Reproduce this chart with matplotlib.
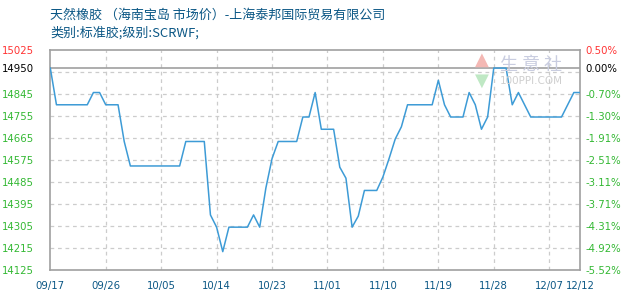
import matplotlib
matplotlib.use("Agg")
import matplotlib.pyplot as plt
import numpy as np

plt.rcParams['font.family'] = ['DejaVu Sans', 'Noto Sans CJK SC']

# daily price, 09/17 .. 12/12 (day index 0..86)
price = [14950, 14800, 14800, 14800, 14800, 14800, 14800, 14850, 14850, 14800,
         14800, 14800, 14650, 14550, 14550, 14550, 14550, 14550, 14550, 14550,
         14550, 14550, 14650, 14650, 14650, 14650, 14350, 14300, 14200, 14300,
         14300, 14300, 14300, 14350, 14300, 14460, 14580, 14650, 14650, 14650,
         14650, 14750, 14750, 14850, 14700, 14700, 14700, 14545, 14500, 14300,
         14345, 14450, 14450, 14450, 14505, 14580, 14660, 14710, 14800, 14800,
         14800, 14800, 14800, 14900, 14800, 14750, 14750, 14750, 14850, 14800,
         14700, 14750, 14950, 14950, 14950, 14800, 14850, 14800, 14750, 14750,
         14750, 14750, 14750, 14750, 14800, 14850, 14850]
days = np.arange(len(price))

xtick_days = [0, 9, 18, 27, 36, 45, 54, 63, 72, 81, 86]
xtick_labels = ["09/17", "09/26", "10/05", "10/14", "10/23", "11/01",
                "11/10", "11/19", "11/28", "12/07", "12/12"]

base = 14950
y_min, y_max = 14125, 15025
grid_levels = [14125 + 90 * k for k in range(11)]

title1 = "天然橡胶 （海南宝岛 市场价）-上海泰邦国际贸易有限公司"
title2 = "类别:标准胶;级别:SCRWF;"

blue_txt = "#0b5785"
green = "#33b833"
red = "#ff3333"
spine_c = "#a0a0a0"

fig = plt.figure(figsize=(6.3, 3.0), dpi=100)
ax = fig.add_axes([50.3 / 630, 0.1, (580 - 50.3) / 630, (270 - 49.7) / 300])

for lv in grid_levels[1:-1]:
    ax.axhline(lv, color="#cccccc", lw=0.9, ls=(0, (3, 3)), zorder=1)
for d in xtick_days[1:-1]:
    ax.axvline(d, color="#cccccc", lw=0.9, ls=(0, (3, 3)), zorder=1)
ax.axhline(base, color=spine_c, lw=1.2, zorder=2)

ax.plot(days, price, color="#3d9bd6", lw=1.1, zorder=3)

ax.set_xlim(0, len(price) - 1)
ax.set_ylim(y_min, y_max)
for s in ax.spines.values():
    s.set_color(spine_c)
    s.set_linewidth(1.2)

ax.set_xticks(xtick_days)
ax.set_xticklabels(xtick_labels)
ax.tick_params(axis="x", length=0, pad=8, labelsize=7.3, labelcolor=blue_txt)

left_ticks = grid_levels[:-2] + [base, y_max]
left_labels = [str(v) for v in left_ticks]
ax.set_yticks(left_ticks)
ax.set_yticklabels(left_labels)
ax.tick_params(axis="y", length=0, pad=11.5, labelsize=7.3)
for lab, v in zip(ax.get_yticklabels(), left_ticks):
    lab.set_color(red if v > base else ("black" if v == base else green))

ax2 = ax.twinx()
ax2.set_ylim(y_min, y_max)
ax2.set_yticks(left_ticks)
ax2.set_yticklabels(["%.2f%%" % ((v - base) / base * 100) for v in left_ticks])
ax2.tick_params(axis="y", length=0, pad=3.6, labelsize=7.3)
for lab, v in zip(ax2.get_yticklabels(), left_ticks):
    lab.set_color(red if v > base else ("black" if v == base else green))
for s in ax2.spines.values():
    s.set_visible(False)

# titles
fig.text(50 / 630, 1 - 15 / 300, title1, fontsize=9.4, color=blue_txt, va="center",
         family=['Noto Sans CJK SC', 'DejaVu Sans'])
fig.text(50 / 630, 1 - 33 / 300, title2, fontsize=9.4, color=blue_txt, va="center",
         family=['Noto Sans CJK SC', 'DejaVu Sans'])

# watermark
fig.text(482 / 630, 1 - 60 / 300, "▲", fontsize=13, color="#f4b8b4", ha="center", va="center")
fig.text(482 / 630, 1 - 81 / 300, "▼", fontsize=13, color="#bfe8c4", ha="center", va="center")
fig.text(531 / 630, 1 - 65 / 300, "生 意 社", fontsize=13, color="#c9cde0", ha="center", va="center",
         family=['Noto Sans CJK SC', 'DejaVu Sans'])
fig.text(531 / 630, 1 - 81 / 300, "100PPI.COM", fontsize=7.5, color="#cfcfcf", ha="center", va="center")

fig.savefig("out.png", dpi=100)
